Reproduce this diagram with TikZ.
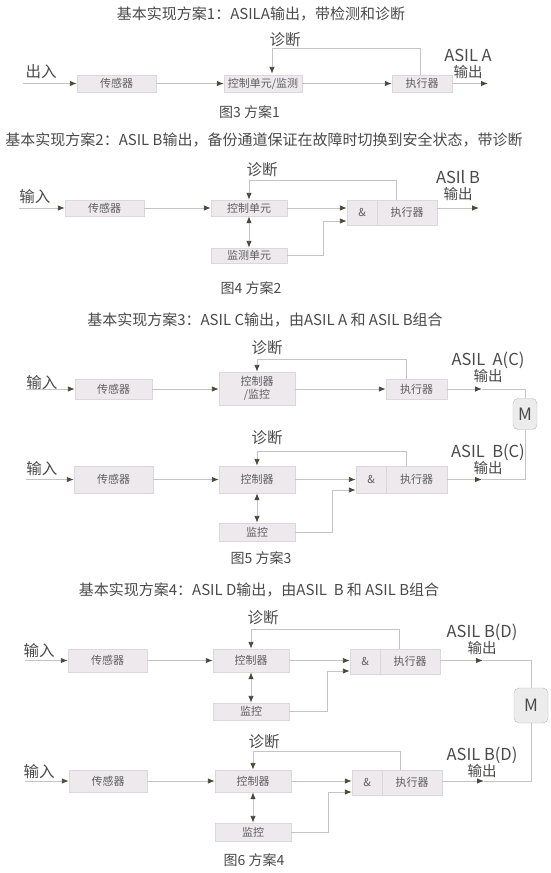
\documentclass[tikz,border=0pt]{standalone}
\usepackage{fontspec}
\setmainfont{Noto Sans CJK SC}
\usetikzlibrary{arrows.meta, positioning}
\definecolor{boxfill}{HTML}{EEE9ED}
\definecolor{boxline}{HTML}{DCD7DB}
\definecolor{linec}{HTML}{C4C4C4}
\definecolor{tipc}{HTML}{4A4A3A}
\definecolor{txt}{HTML}{4A4A4A}
\definecolor{boxtxt}{HTML}{5E5E5E}
\newcommand{\asl}[1]{{\fontsize{16.5}{16}\selectfont #1}}
\tikzset{
  blk/.style={draw=boxline, fill=boxfill, text=boxtxt, font=\fontsize{11}{13}\selectfont, inner sep=0pt, align=center},
  lbl/.style={text=txt, font=\fontsize{15.5}{16}\selectfont, inner sep=0pt},
  ttl/.style={text=txt, font=\fontsize{15}{16}\selectfont, inner sep=0pt},
  figcap/.style={text=txt, font=\fontsize{14}{15}\selectfont, inner sep=0pt},
  outlbl/.style={text=txt, font=\fontsize{14.5}{16}\selectfont, inner sep=0pt, align=center},
  mbox/.style={draw=gray!55, fill=gray!15, rounded corners=5pt, text=txt, font=\fontsize{17}{17}\selectfont, inner sep=0pt},
  ln/.style={draw=linec, line width=0.9pt},
  arr/.style={ln, -{Latex[length=7pt, width=5.5pt, color=tipc]}},
  darr/.style={ln, {Latex[length=7pt, width=5.5pt, color=tipc]}-{Latex[length=7pt, width=5.5pt, color=tipc]}},
}
\begin{document}
\begin{tikzpicture}[x=1pt, y=-1pt]
\useasboundingbox[fill=white] (0,0) rectangle (550,873);

% scheme 1
\node[ttl] (t1) at (261,14) {基本实现方案1：ASILA输出，带检测和诊断};
\node[blk, minimum width=79pt, minimum height=17pt] (s1) at (116.5,83.5) {传感器};
\node[blk, minimum width=78pt, minimum height=17pt] (c1) at (263,83.5) {控制单元/监测};
\node[blk, minimum width=60pt, minimum height=17pt] (e1) at (422,83.5) {执行器};
\node[lbl] (i1) at (41,72) {出入};
\node[lbl] (d1) at (285,40) {诊断};
\node[outlbl] (o1) at (468,64) {\asl{ASIL A}\\输出};
\node[figcap] (f1) at (249.5,112) {图3 方案1};
\coordinate (in1) at (23,83.5);
\coordinate (out1) at (488,83.5);
\draw[arr] (in1) -- (s1);
\draw[arr] (s1) -- (c1);
\draw[arr] (c1) -- (e1);
\draw[arr] (e1) -- (out1);
\draw[arr] ([xshift=-2pt]e1.north) |- ([xshift=9pt, yshift=26pt]c1.north) -- ([xshift=9pt, yshift=1pt]c1.north);

% scheme 2
\node[ttl] (t2) at (264,140) {基本实现方案2：ASIL B输出，备份通道保证在故障时切换到安全状态，带诊断};
\node[blk, minimum width=79pt, minimum height=16pt] (s2) at (104.5,208) {传感器};
\node[blk, minimum width=76pt, minimum height=16pt] (c2) at (249,208) {控制单元};
\node[blk, minimum width=30pt, minimum height=25pt] (g2) at (362,212.5) {\&};
\node[blk, minimum width=60pt, minimum height=25pt] (e2) at (407,212.5) {执行器};
\node[blk, minimum width=76pt, minimum height=15pt] (w2) at (249,255.5) {监测单元};
\node[lbl] (i2) at (35,197) {输入};
\node[lbl] (d2) at (262,170) {诊断};
\node[outlbl] (o2) at (458,185.5) {\asl{ASIl B}\\输出};
\node[figcap] (f2) at (251,288) {图4 方案2};
\coordinate (in2) at (19,208);
\coordinate (out2) at (479,208);
\coordinate (j2) at (323,221);
\draw[arr] (in2) -- (s2);
\draw[arr] (s2) -- (c2);
\draw[arr] (c2) -- (g2.west |- c2);
\draw[arr] (w2.east) -| (j2) -- (g2.west |- j2);
\draw[darr] (c2.south) -- (w2.north);
\draw[arr] (e2.east |- c2) -- (out2);
\draw[arr] ([xshift=-11pt]e2.north) |- ([yshift=19pt]c2.north) -- (c2.north);

% scheme 3
\node[ttl] (t3) at (265,320) {基本实现方案3：ASIL C输出，由ASIL A 和 ASIL B组合};
\node[blk, minimum width=77pt, minimum height=20pt] (s3a) at (113.5,389) {传感器};
\node[blk, minimum width=76pt, minimum height=33pt] (c3a) at (257,388.5) {控制器\\/监控};
\node[blk, minimum width=61pt, minimum height=20pt] (e3a) at (416.5,389) {执行器};
\node[lbl] (i3a) at (42,383) {输入};
\node[lbl] (d3a) at (267,348) {诊断};
\node[outlbl] (o3a) at (488,367) {\asl{ASIL\ \ A(C)}\\输出};
\node[mbox, minimum width=24pt, minimum height=31pt] (mo3) at (525,414) {M};
\coordinate (in3a) at (26,389);
\coordinate (out3a) at (482,389);
\draw[arr] (in3a) -- (s3a);
\draw[arr] (s3a) -- (c3a.west |- s3a);
\draw[arr] (c3a.east |- e3a) -- (e3a);
\draw[arr] (e3a) -- (out3a);
\draw[ln] (out3a) -| (mo3.north);
\draw[arr] ([xshift=-10pt]e3a.north) |- ([yshift=12pt]c3a.north) -- (c3a.north);

\node[blk, minimum width=79pt, minimum height=27pt] (s3b) at (113.5,479.5) {传感器};
\node[blk, minimum width=76pt, minimum height=27pt] (c3b) at (257,479.5) {控制器};
\node[blk, minimum width=30pt, minimum height=27pt] (g3b) at (371,479.5) {\&};
\node[blk, minimum width=61pt, minimum height=27pt] (e3b) at (416.5,479.5) {执行器};
\node[blk, minimum width=76pt, minimum height=18pt] (w3b) at (257,532) {监控};
\node[lbl] (i3b) at (42,469) {输入};
\node[lbl] (d3b) at (267,438) {诊断};
\node[outlbl] (o3b) at (488,459.5) {\asl{ASIL\ \ B(C)}\\输出};
\node[figcap] (f3) at (261,558) {图5 方案3};
\coordinate (in3b) at (26,479.5);
\coordinate (out3b) at (482,479.5);
\coordinate (j3b) at (332,490);
\draw[arr] (in3b) -- (s3b);
\draw[arr] (s3b) -- (c3b);
\draw[arr] (c3b) -- (g3b);
\draw[arr] (w3b.east) -| (j3b) -- (g3b.west |- j3b);
\draw[darr] (c3b.south) -- (w3b.north);
\draw[arr] (e3b) -- (out3b);
\draw[ln] (out3b) -| (mo3.south);
\draw[arr] ([xshift=-10pt]e3b.north) |- ([yshift=14pt]c3b.north) -- (c3b.north);

% scheme 4
\node[ttl] (t4) at (259,590) {基本实现方案4：ASIL D输出，由ASIL\ \ B 和 ASIL B组合};
\node[blk, minimum width=79pt, minimum height=23pt] (s4a) at (107.5,660.5) {传感器};
\node[blk, minimum width=76pt, minimum height=23pt] (c4a) at (251,660.5) {控制器};
\node[blk, minimum width=30pt, minimum height=25pt] (g4a) at (365,661.5) {\&};
\node[blk, minimum width=60pt, minimum height=25pt] (e4a) at (410,661.5) {执行器};
\node[blk, minimum width=76pt, minimum height=17pt] (w4a) at (251,711.5) {监控};
\node[lbl] (i4a) at (39,651) {输入};
\node[lbl] (d4a) at (263,618) {诊断};
\node[outlbl] (o4a) at (482,639.5) {\asl{ASIL B(D)}\\输出};
\node[mbox, minimum width=34pt, minimum height=35pt] (mo4) at (531,705.5) {M};
\coordinate (in4a) at (25,660.5);
\coordinate (out4a) at (483,660.5);
\coordinate (j4a) at (327,671);
\draw[arr] (in4a) -- (s4a);
\draw[arr] (s4a) -- (c4a);
\draw[arr] (c4a) -- (g4a.west |- c4a);
\draw[arr] (w4a.east) -| (j4a) -- (g4a.west |- j4a);
\draw[darr] (c4a.south) -- (w4a.north);
\draw[arr] (e4a.east |- c4a) -- (out4a);
\draw[ln] (out4a) -| (mo4.north);
\draw[arr] ([xshift=-11pt]e4a.north) |- ([yshift=19pt]c4a.north) -- (c4a.north);

\node[blk, minimum width=78pt, minimum height=22pt] (s4b) at (108,781) {传感器};
\node[blk, minimum width=76pt, minimum height=22pt] (c4b) at (253,781) {控制器};
\node[blk, minimum width=30pt, minimum height=25pt] (g4b) at (367,782.5) {\&};
\node[blk, minimum width=60pt, minimum height=25pt] (e4b) at (412,782.5) {执行器};
\node[blk, minimum width=76pt, minimum height=18pt] (w4b) at (253,832) {监控};
\node[lbl] (i4b) at (39,772) {输入};
\node[lbl] (d4b) at (264,742) {诊断};
\node[outlbl] (o4b) at (482,762) {\asl{ASIL B(D)}\\输出};
\node[figcap] (f4) at (254,860) {图6 方案4};
\coordinate (in4b) at (25,781);
\coordinate (out4b) at (484,781);
\coordinate (j4b) at (328,792);
\draw[arr] (in4b) -- (s4b);
\draw[arr] (s4b) -- (c4b);
\draw[arr] (c4b) -- (g4b.west |- c4b);
\draw[arr] (w4b.east) -| (j4b) -- (g4b.west |- j4b);
\draw[darr] (c4b.south) -- (w4b.north);
\draw[arr] (e4b.east |- c4b) -- (out4b);
\draw[ln] (out4b) -| (mo4.south);
\draw[arr] ([xshift=-12pt]e4b.north) |- ([yshift=18pt]c4b.north) -- (c4b.north);
\end{tikzpicture}
\end{document}
